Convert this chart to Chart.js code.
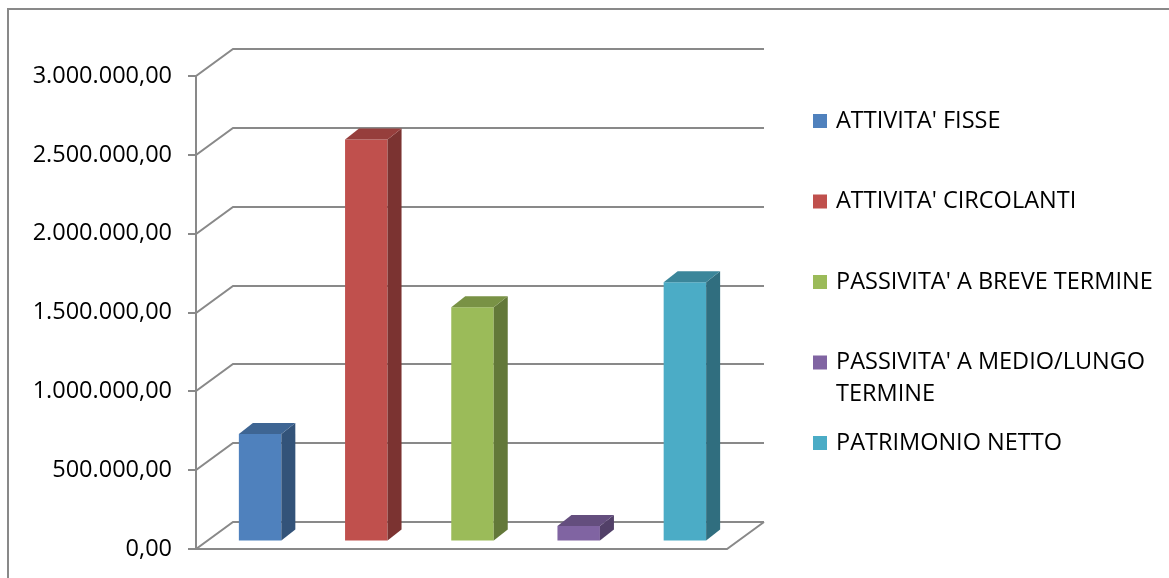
<!DOCTYPE html>
<html>
<head>
<meta charset="utf-8">
<script src="https://cdn.jsdelivr.net/npm/chart.js@4"></script>
<style>
  body { margin: 0; background: #fff; }
</style>
</head>
<body>
<canvas id="myChart" width="1169" height="578"></canvas>
<script>
  // data
  const categories = [
    "ATTIVITA' FISSE",
    "ATTIVITA' CIRCOLANTI",
    "PASSIVITA' A BREVE TERMINE",
    "PASSIVITA' A MEDIO/LUNGO TERMINE",
    "PATRIMONIO NETTO"
  ];
  const values = [678000, 2547000, 1482000, 95000, 1641000];
  const yMin = 0;
  const yMax = 3000000;
  const yStep = 500000;

  const colors = ['#4F81BD', '#C0504D', '#9BBB59', '#8064A2', '#4BACC6'];
  const gridColor = '#898989';
  const wall = { dx: 37, dy: -27 };     // depth of the back wall
  const shift = { dx: 11, dy: -8 };     // bars sit a bit behind the front edge
  const barDepth = { dx: 14, dy: -11 }; // depth of every bar

  function shade(hex, f) {
    const n = parseInt(hex.slice(1), 16);
    const r = Math.round(((n >> 16) & 255) * f);
    const g = Math.round(((n >> 8) & 255) * f);
    const b = Math.round((n & 255) * f);
    return 'rgb(' + r + ',' + g + ',' + b + ')';
  }

  // 3000000 -> "3.000.000,00"
  function fmt(v) {
    const int = Math.round(v).toString().replace(/\B(?=(\d{3})+(?!\d))/g, '.');
    return int + ',00';
  }

  const frame3d = {
    id: 'frame3d',
    beforeDraw(chart) {
      const ctx = chart.ctx;
      ctx.save();
      ctx.strokeStyle = gridColor;
      ctx.lineWidth = 2;
      ctx.beginPath();
      ctx.moveTo(8, 600);
      ctx.lineTo(8, 9);
      ctx.lineTo(1200, 9);
      ctx.stroke();
      ctx.restore();
    },
    beforeDatasetsDraw(chart) {
      const ctx = chart.ctx;
      const y = chart.scales.y;
      const a = chart.chartArea;
      ctx.save();
      ctx.strokeStyle = gridColor;
      ctx.lineWidth = 2;
      y.ticks.forEach(t => {
        const py = Math.round(y.getPixelForValue(t.value));
        ctx.beginPath();
        ctx.moveTo(a.left - 8, py);
        ctx.lineTo(a.left, py);
        ctx.lineTo(a.left + wall.dx, py + wall.dy);
        ctx.lineTo(a.right + wall.dx, py + wall.dy);
        ctx.stroke();
      });
      const top = Math.round(y.getPixelForValue(yMax));
      const bot = Math.round(y.getPixelForValue(yMin));
      ctx.beginPath();
      ctx.moveTo(a.left, top);
      ctx.lineTo(a.left, bot);
      ctx.lineTo(a.right, bot);
      ctx.lineTo(a.right + wall.dx, bot + wall.dy);
      ctx.stroke();
      ctx.restore();

      ctx.save();
      ctx.translate(shift.dx, shift.dy);
    },
    afterDatasetsDraw(chart) {
      const ctx = chart.ctx;
      chart.getDatasetMeta(0).data.forEach((bar, i) => {
        const p = bar.getProps(['x', 'y', 'base', 'width'], true);
        const l = p.x - p.width / 2, r = p.x + p.width / 2;
        // side
        ctx.fillStyle = shade(colors[i], 0.64);
        ctx.beginPath();
        ctx.moveTo(r, p.y);
        ctx.lineTo(r + barDepth.dx, p.y + barDepth.dy);
        ctx.lineTo(r + barDepth.dx, p.base + barDepth.dy);
        ctx.lineTo(r, p.base);
        ctx.closePath();
        ctx.fill();
        // top
        ctx.fillStyle = shade(colors[i], 0.78);
        ctx.beginPath();
        ctx.moveTo(l, p.y);
        ctx.lineTo(l + barDepth.dx, p.y + barDepth.dy);
        ctx.lineTo(r + barDepth.dx, p.y + barDepth.dy);
        ctx.lineTo(r, p.y);
        ctx.closePath();
        ctx.fill();
      });
      ctx.restore();
    },
    afterDraw(chart) {
      const ctx = chart.ctx;
      ctx.save();
      ctx.font = '23.5px "Open Sans"';
      ctx.textBaseline = 'middle';
      ctx.fillStyle = '#000';
      const boxX = 813, textX = 836, maxW = 330;
      let rowY = 121;
      categories.forEach((label, i) => {
        // simple word wrap
        const words = label.split(' ');
        const lines = [];
        let line = '';
        words.forEach(w => {
          const test = line ? line + ' ' + w : w;
          if (ctx.measureText(test).width > maxW && line) {
            lines.push(line);
            line = w;
          } else {
            line = test;
          }
        });
        lines.push(line);
        ctx.fillStyle = colors[i];
        ctx.fillRect(boxX, rowY - 7, 14, 14);
        ctx.fillStyle = '#000';
        lines.forEach((ln, k) => ctx.fillText(ln, textX, rowY + k * 32));
        rowY += 80.5;
      });
      ctx.restore();
    }
  };

  new Chart(document.getElementById('myChart'), {
    type: 'bar',
    data: {
      labels: categories,
      datasets: [{
        data: values,
        backgroundColor: colors,
        borderWidth: 0,
        barPercentage: 0.4,
        categoryPercentage: 1,
        clip: false
      }]
    },
    options: {
      responsive: false,
      animation: false,
      layout: { padding: { left: 0, right: 442, top: 76, bottom: 29 } },
      plugins: {
        legend: { display: false },
        tooltip: { enabled: false }
      },
      scales: {
        x: { display: false },
        y: {
          min: yMin,
          max: yMax,
          afterFit(s) { s.width = 196; },
          // invisible tick marks only push the labels away from the axis
          grid: { color: 'rgba(0,0,0,0)', drawOnChartArea: false, drawTicks: true, tickLength: 24 },
          border: { display: false },
          ticks: {
            stepSize: yStep,
            padding: 0,
            color: '#000',
            font: { family: 'Open Sans', size: 23.5 },
            callback: v => fmt(v)
          }
        }
      }
    },
    plugins: [frame3d]
  });
</script>
</body>
</html>
